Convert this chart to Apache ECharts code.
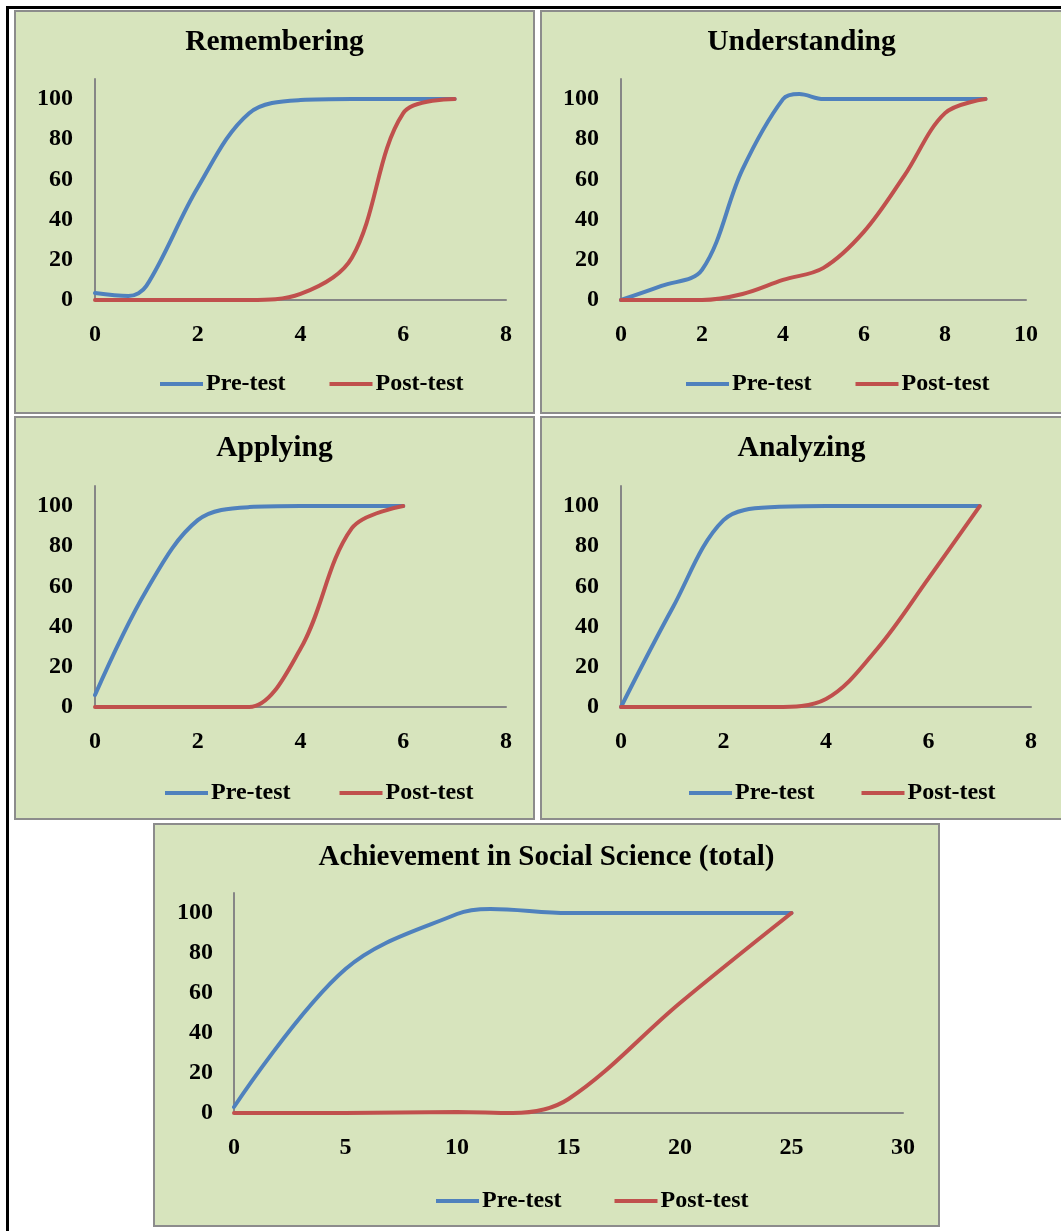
<!DOCTYPE html>
<html>
<head>
<meta charset="utf-8">
<script src="https://cdn.jsdelivr.net/npm/echarts@6/dist/echarts.min.js"></script>
<style>
  html, body { margin: 0; padding: 0; background: #fff; width: 1061px; height: 1231px; overflow: hidden; }
  .frameTop { position: absolute; left: 6px; top: 6px; width: 1060px; height: 3px; background: #000; }
  .frameLeft { position: absolute; left: 6px; top: 6px; width: 3px; height: 1230px; background: #000; }
  .panel { position: absolute; box-sizing: border-box; border: 2px solid #8c8c8c; background: #d7e4bd; }
  .chart { position: absolute; left: 0; top: 0; width: 100%; height: 100%; }
</style>
</head>
<body>
<div class="frameTop"></div>
<div class="frameLeft"></div>
<div class="panel" style="left:14px; top:10px; width:521px; height:404px;"><div class="chart" id="c1"></div></div>
<div class="panel" style="left:540px; top:10px; width:523px; height:404px;"><div class="chart" id="c2"></div></div>
<div class="panel" style="left:14px; top:416px; width:521px; height:404px;"><div class="chart" id="c3"></div></div>
<div class="panel" style="left:540px; top:416px; width:523px; height:404px;"><div class="chart" id="c4"></div></div>
<div class="panel" style="left:153px; top:823px; width:787px; height:404px;"><div class="chart" id="c5"></div></div>
<script>
// ---- Data (x = score, y = cumulative %) ----
const seriesNames = ['Pre-test', 'Post-test'];

const rememberingPre  = [[0,3.5],[0.65,2],[1,7],[2,56],[3,93],[4,99.5],[5,100],[6,100],[7,100]];
const rememberingPost = [[0,0],[1,0],[2,0],[3,0],[4,3],[5,21],[6,93],[7,100]];

const understandingPre  = [[0,0],[1,7],[2,15],[3,65],[4,100],[4.4,102.5],[5,100],[6,100],[7,100],[8,100],[9,100]];
const understandingPost = [[0,0],[1,0],[2,0],[3,3],[4,10],[5,16],[6,34],[7,62],[8,93],[9,100]];

const applyingPre  = [[0,6],[1,58],[2,93],[3,99.5],[4,100],[5,100],[6,100]];
const applyingPost = [[0,0],[1,0],[2,0],[3,0],[4,29],[5,89],[6,100]];

const analyzingPre  = [[0,0],[1,49],[2,93],[3,99.5],[4,100],[5,100],[6,100],[7,100]];
const analyzingPost = [[0,0],[1,0],[2,0],[3,0],[4,4],[5,29],[6,64],[7,100]];

const totalPre  = [[0,3],[5,72],[10,99.5],[11.5,102],[15,100],[20,100],[25,100]];
const totalPost = [[0,0],[5,0],[10,0.5],[12.5,0],[15,7],[20,55],[25,100]];

const titles = ['Remembering', 'Understanding', 'Applying', 'Analyzing', 'Achievement in Social Science (total)'];
const xMaxes = [8, 10, 8, 8, 30];
const xIntervals = [2, 2, 2, 2, 5];
const yMax = 110;
const yInterval = 20;

// ---- Styling ----
const FONT = '"Liberation Serif", "Times New Roman", serif';
const BLUE = '#4f81bd';
const RED = '#c0504d';
const AXIS = '#868686';

function makeOption(idx, pre, post, layout) {
  return {
    animation: false,
    textStyle: { fontFamily: FONT },
    title: {
      text: titles[idx],
      left: 'center',
      top: layout.titleTop,
      padding: 0,
      textStyle: { fontFamily: FONT, fontWeight: 'bold', fontSize: layout.titleSize, color: '#000' }
    },
    legend: {
      data: seriesNames,
      left: layout.legendLeft,
      top: layout.legendTop,
      padding: 0,
      icon: 'rect',
      itemWidth: 43,
      itemHeight: 4,
      itemGap: layout.legendGap,
      textStyle: { fontFamily: FONT, fontWeight: 'bold', fontSize: layout.legendSize, color: '#000', padding: [0, 0, 0, -2] }
    },
    grid: { left: layout.gridLeft, top: layout.gridTop, width: layout.gridWidth, height: layout.gridHeight, containLabel: false },
    xAxis: {
      type: 'value', min: 0, max: xMaxes[idx], interval: xIntervals[idx],
      splitLine: { show: false },
      axisTick: { show: false },
      axisLine: { show: true, onZero: false, lineStyle: { color: AXIS, width: 2 } },
      axisLabel: { margin: layout.xLabelMargin, fontFamily: FONT, fontWeight: 'bold', fontSize: layout.labelSize, color: '#000' }
    },
    yAxis: {
      type: 'value', min: 0, max: yMax, interval: yInterval,
      splitLine: { show: false },
      axisTick: { show: false },
      axisLine: { show: true, lineStyle: { color: AXIS, width: 2 } },
      axisLabel: { showMaxLabel: false, margin: layout.yLabelMargin, padding: [8, 0, 0, 0], fontFamily: FONT, fontWeight: 'bold', fontSize: layout.labelSize, color: '#000' }
    },
    series: [
      { name: seriesNames[0], type: 'line', data: pre, smooth: 0.35, showSymbol: false, symbol: 'none',
        lineStyle: { color: BLUE, width: 4, cap: 'round' }, itemStyle: { color: BLUE }, z: 3 },
      { name: seriesNames[1], type: 'line', data: post, smooth: 0.35, showSymbol: false, symbol: 'none',
        lineStyle: { color: RED, width: 4, cap: 'round' }, itemStyle: { color: RED }, z: 4 }
    ]
  };
}

const baseLayout = {
  titleTop: 15, titleSize: 29.5,
  legendTop: 360, legendSize: 24, legendGap: 44,
  gridLeft: 79, gridTop: 67, gridHeight: 221,
  xLabelMargin: 23, yLabelMargin: 22, labelSize: 24
};

const configs = [
  { id: 'c1', pre: rememberingPre, post: rememberingPost, layout: Object.assign({}, baseLayout, { gridWidth: 411, legendLeft: 144 }) },
  { id: 'c2', pre: understandingPre, post: understandingPost, layout: Object.assign({}, baseLayout, { gridWidth: 405, legendLeft: 144 }) },
  { id: 'c3', pre: applyingPre, post: applyingPost, layout: Object.assign({}, baseLayout, { gridTop: 68, gridWidth: 411, legendLeft: 149, legendTop: 363, legendGap: 49 }) },
  { id: 'c4', pre: analyzingPre, post: analyzingPost, layout: Object.assign({}, baseLayout, { gridTop: 68, gridWidth: 410, legendLeft: 147, legendTop: 363, legendGap: 47 }) },
  { id: 'c5', pre: totalPre, post: totalPost, layout: Object.assign({}, baseLayout, { titleTop: 18, titleSize: 29, gridTop: 68, gridWidth: 669, gridHeight: 220, legendLeft: 281, legendTop: 364, legendGap: 53, yLabelMargin: 21 }) }
];

configs.forEach(function (cfg, i) {
  const chart = echarts.init(document.getElementById(cfg.id), null, { renderer: 'canvas' });
  chart.setOption(makeOption(i, cfg.pre, cfg.post, cfg.layout));
});
</script>
</body>
</html>
